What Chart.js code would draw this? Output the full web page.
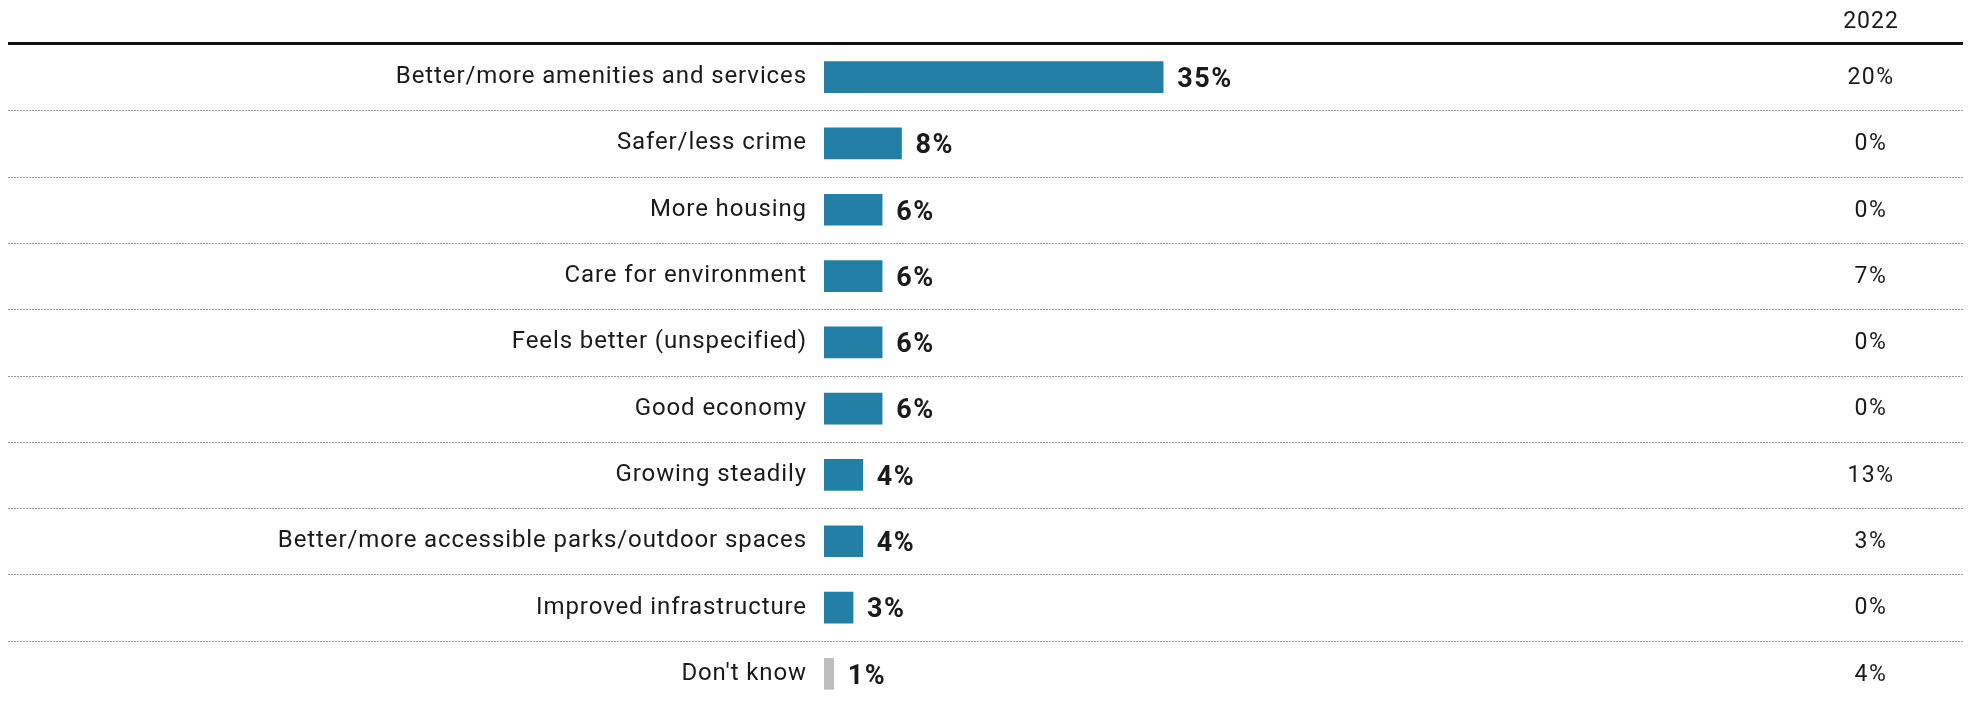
<!DOCTYPE html>
<html>
<head>
<meta charset="utf-8">
<script src="https://cdn.jsdelivr.net/npm/chart.js@4.4.0/dist/chart.umd.min.js"></script>
<style>
  body { margin: 0; background: #fff; }
  canvas { display: block; }
</style>
</head>
<body>
<canvas id="chartArea" width="1973" height="707"></canvas>
<script>
// values
var categories = [
  'Better/more amenities and services',
  'Safer/less crime',
  'More housing',
  'Care for environment',
  'Feels better (unspecified)',
  'Good economy',
  'Growing steadily',
  'Better/more accessible parks/outdoor spaces',
  'Improved infrastructure',
  "Don't know"
]
var values2024 = [35, 8, 6, 6, 6, 6, 4, 4, 3, 1]
var values2022 = [20, 0, 0, 7, 0, 0, 13, 3, 0, 4]
var prevYearLabel = '2022'

var blue = '#247fa7'
var grey = '#bdbdbd'
var textCol = '#1a1a1a'
var fontName = 'Roboto, "Noto Sans", sans-serif'

var barColors = []
for (var i = 0; i < categories.length; i++) {
  barColors[i] = categories[i] == "Don't know" ? grey : blue
}

var tablePlugin = {
  id: 'tablePlugin',
  beforeDraw: function(chart) {
    // spaced-out lettering like the original typeface
    chart.ctx.letterSpacing = '0.9px'
  },
  afterDatasetsDraw: function(chart) {
    var ctx = chart.ctx
    var yScale = chart.scales.y
    var meta = chart.getDatasetMeta(0)
    var lineLeft = 8, lineRight = 1963, colX = 1871

    ctx.save()
    // header rule
    ctx.fillStyle = '#111'
    ctx.fillRect(lineLeft, 42, lineRight - lineLeft, 3)

    // header text
    ctx.letterSpacing = '1px'
    ctx.font = '23px ' + fontName
    ctx.fillStyle = textCol
    ctx.textAlign = 'center'
    ctx.textBaseline = 'middle'
    ctx.fillText(prevYearLabel, colX, 22)

    // dotted separators between rows
    ctx.strokeStyle = '#9a9a9a'
    ctx.lineWidth = 1
    ctx.setLineDash([2, 1])
    for (var i = 0; i < categories.length - 1; i++) {
      var y = Math.round((yScale.getPixelForValue(i) + yScale.getPixelForValue(i + 1)) / 2) + 0.5
      ctx.beginPath()
      ctx.moveTo(lineLeft, y)
      ctx.lineTo(lineRight, y)
      ctx.stroke()
    }
    ctx.setLineDash([])

    // value labels next to bars
    ctx.letterSpacing = '1.5px'
    ctx.font = 'bold 27px ' + fontName
    ctx.textAlign = 'left'
    meta.data.forEach(function(bar, i) {
      ctx.fillText(values2024[i] + '%', bar.x + 14, bar.y + 3)
    })

    // previous year column
    ctx.letterSpacing = '1.5px'
    ctx.font = '23px ' + fontName
    ctx.textAlign = 'center'
    for (var j = 0; j < categories.length; j++) {
      ctx.fillText(values2022[j] + '%', colX, yScale.getPixelForValue(j) + 1)
    }
    ctx.restore()
  }
}

var ctx = document.getElementById('chartArea').getContext('2d')
var myBarChart = new Chart(ctx, {
  type: 'bar',
  data: {
    labels: categories,
    datasets: [{
      data: values2024,
      backgroundColor: barColors,
      borderWidth: 0,
      barThickness: 31
    }]
  },
  options: {
    indexAxis: 'y',
    responsive: false,
    animation: false,
    layout: { padding: { left: 8, top: 44, right: 180, bottom: -6 } },
    plugins: {
      legend: { display: false },
      tooltip: { enabled: false }
    },
    scales: {
      x: {
        display: false,
        min: 0,
        max: 100
      },
      y: {
        grid: { display: false, drawTicks: false },
        border: { display: false },
        ticks: {
          color: textCol,
          padding: 17,
          font: { family: fontName, size: 24 }
        },
        afterFit: function(scale) {
          scale.width = 816
          scale.paddingTop = 0
          scale.paddingBottom = 0
        }
      }
    }
  },
  plugins: [tablePlugin]
})
</script>
</body>
</html>
